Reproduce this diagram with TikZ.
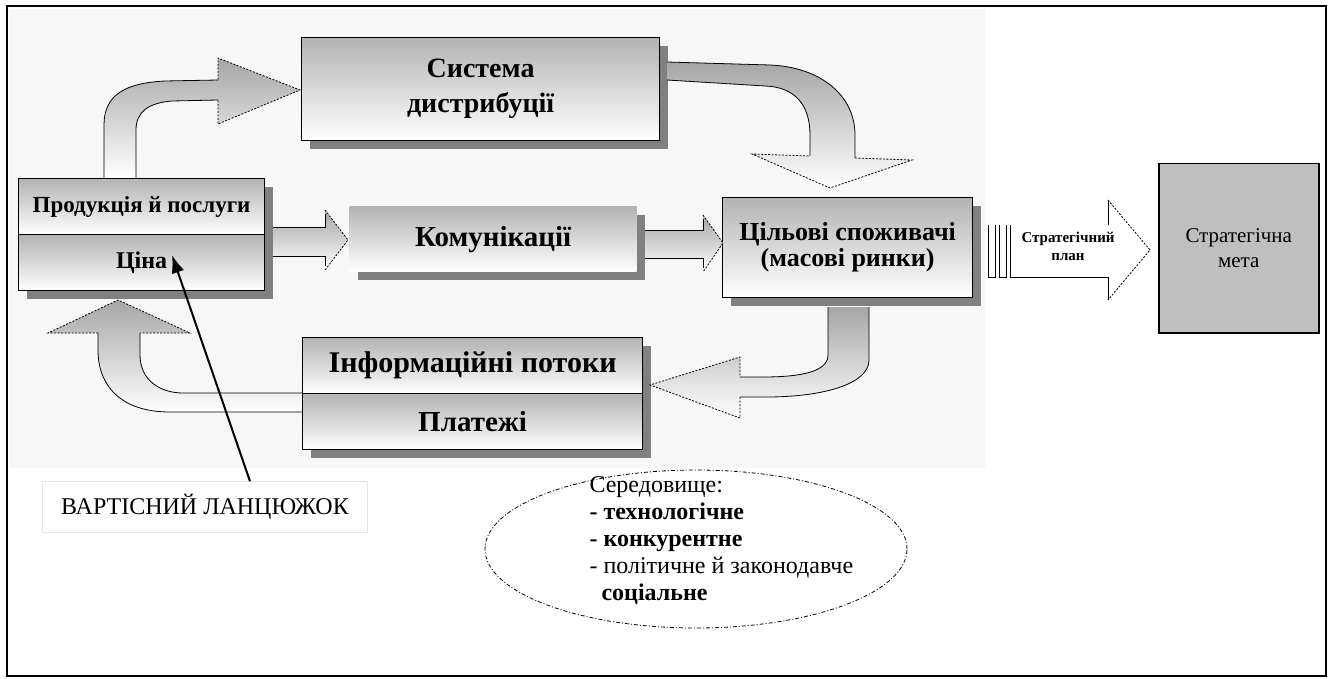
\documentclass[tikz,border=0pt]{standalone}
\usepackage{fontspec}
\setmainfont{Liberation Serif}
\usetikzlibrary{shadows,arrows.meta,shapes.geometric,calc}

\tikzset{
  cell/.style={draw=black, line width=1.2pt, top color=black!30, bottom color=white,
    anchor=north west, inner sep=0pt, font=\bfseries},
  boxshadow/.style={general shadow={fill=black!50, shadow xshift=8pt, shadow yshift=-8pt}},
  flow/.style={top color=black!35, bottom color=white},
  flowedge/.style={line width=.8pt},
  flowhead/.style={line width=.8pt, dash pattern=on 2pt off 1.5pt},
}

\begin{document}
\begin{tikzpicture}[x=1pt, y=-1pt]
  \useasboundingbox (0,0) rectangle (1332,679);
  % background and frame
  \fill[black!3] (10,9) rectangle (985,468);
  \draw[line width=2.5pt] (7,6) rectangle (1326,676);

  % boxes
  \node[cell, boxshadow, minimum width=246pt, minimum height=56pt,
    font=\fontsize{23}{23}\selectfont\bfseries] (prod) at (18,178) {Продукція й послуги};
  \node[cell, boxshadow, minimum width=246pt, minimum height=56pt,
    font=\fontsize{24}{24}\selectfont\bfseries] (cina) at (18,234) {Ціна};
  \node[cell, boxshadow, minimum width=358pt, minimum height=103pt, align=center,
    font=\fontsize{28}{35}\selectfont\bfseries] (sys) at (301,37) {Система\\дистрибуції};
  \node[cell, draw=none, boxshadow, minimum width=287pt, minimum height=65pt,
    font=\fontsize{29}{29}\selectfont\bfseries] (komun) at (349,206) {Комунікації};
  \node[cell, boxshadow, minimum width=250pt, minimum height=100pt, align=center,
    font=\fontsize{26}{26}\selectfont\bfseries] (cil) at (722,197) {Цільові споживачі\\(масові ринки)};
  \node[cell, boxshadow, minimum width=340pt, minimum height=56pt,
    font=\fontsize{30}{30}\selectfont\bfseries] (info) at (302,337) {Інформаційні потоки};
  \node[cell, boxshadow, minimum width=340pt, minimum height=56pt,
    font=\fontsize{29}{29}\selectfont\bfseries] (plat) at (302,393) {Платежі};
  \node[draw, line width=1.5pt, fill=black!25, anchor=north west, align=center,
    minimum width=160pt, minimum height=169pt,
    font=\fontsize{21}{25}\selectfont] (meta) at (1158,163) {Стратегічна\\мета};

  % flows between the boxes
  \shade[flow] (104,178) -- (104,125) .. controls (104,95) and (125,83) .. (165,81) -- (218,80)
    -- (218,58) -- (300,90) -- (218,124) -- (218,100) -- (172,101)
    .. controls (148,103) and (136,112) .. (136,130) -- (136,178) -- cycle;
  \draw[flowedge] (104,178) -- (104,125) .. controls (104,95) and (125,83) .. (165,81) -- (218,80);
  \draw[flowedge] (218,100) -- (172,101) .. controls (148,103) and (136,112) .. (136,130) -- (136,178);
  \draw[flowhead] (218,80) -- (218,58) -- (300,90) -- (218,124) -- (218,100);

  \shade[flow] (667,62) -- (770,65) .. controls (820,67) and (855,95) .. (855,135) -- (855,158)
    -- (912,160) -- (830,188) -- (752,154) -- (810,156) -- (810,135)
    .. controls (810,105) and (795,87) .. (765,86) -- (667,80) -- cycle;
  \draw[flowedge] (667,62) -- (770,65) .. controls (820,67) and (855,95) .. (855,135) -- (855,158);
  \draw[flowedge] (810,156) -- (810,135) .. controls (810,105) and (795,87) .. (765,86) -- (667,80);
  \draw[flowhead] (855,158) -- (912,160) -- (830,188) -- (752,154) -- (810,156);

  \shade[flow] (273,227) -- (325,227) -- (325,210) -- (348,240) -- (325,270) -- (325,256)
    -- (273,256) -- cycle;
  \draw[flowedge] (273,227) -- (325,227) -- (325,214) (325,266) -- (325,256) -- (273,256);
  \draw[flowhead] (325,210) -- (348,240) -- (325,270);

  \shade[flow] (645,230) -- (703,230) -- (703,215) -- (723,243) -- (703,272) -- (703,258)
    -- (645,258) -- cycle;
  \draw[flowedge] (645,230) -- (703,230) -- (703,219) (703,268) -- (703,258) -- (645,258);
  \draw[flowhead] (703,215) -- (723,243) -- (703,272);

  \shade[flow] (869,307) -- (869,360) .. controls (869,385) and (820,397) .. (767,397)
    -- (740,397) -- (740,418) -- (650,385) -- (740,357) -- (740,377) -- (763,377)
    .. controls (800,377) and (828,372) .. (828,355) -- (828,307) -- cycle;
  \draw[flowedge] (869,307) -- (869,360) .. controls (869,385) and (820,397) .. (767,397) -- (740,397);
  \draw[flowedge] (740,377) -- (763,377) .. controls (800,377) and (828,372) .. (828,355) -- (828,307);
  \draw[flowhead] (740,397) -- (740,418) -- (650,385) -- (740,357) -- (740,377);

  \shade[flow] (302,412) -- (170,412) .. controls (120,412) and (98,385) .. (98,350) -- (98,333)
    -- (48,333) -- (118,300) -- (190,333) -- (140,333) -- (140,355)
    .. controls (140,380) and (160,393) .. (183,393) -- (302,393) -- cycle;
  \draw[flowedge] (302,412) -- (170,412) .. controls (120,412) and (98,385) .. (98,350) -- (98,333);
  \draw[flowedge] (140,333) -- (140,355) .. controls (140,380) and (160,393) .. (183,393) -- (302,393);
  \draw[flowhead] (98,333) -- (48,333) -- (118,300) -- (190,333) -- (140,333);

  % striped arrow to the goal
  \foreach \x in {988,999}
    \draw[flowedge] (\x,225) -- (\x,277) -- (\x+7,277) -- (\x+7,225);
  \draw[flowedge] (1010,225) -- (1010,277) -- (1108,277) -- (1108,300);
  \draw[flowedge] (1108,225) -- (1108,200);
  \draw[flowhead] (1108,200) -- (1150,250) -- (1108,300);
  \node[align=center, font=\fontsize{15}{18}\selectfont\bfseries] (plan) at (1068,246)
    {Стратегічний\\план};

  % environment
  \node[draw, ellipse, line width=.8pt, dash pattern=on 4pt off 2pt on 1pt off 2pt,
    minimum width=422pt, minimum height=158pt] (env) at (696,549) {};
  \node[align=left, anchor=west, font=\fontsize{24}{27}\selectfont] (envtxt) at (586,541)
    {Середовище:\\\textbf{- технологічне}\\\textbf{- конкурентне}\\- політичне й законодавче\\
     \hspace*{12pt}\textbf{соціальне}};

  % value chain label
  \node[draw=black!10, fill=white, minimum width=325pt, minimum height=51pt,
    font=\fontsize{24}{24}\selectfont] (vart) at (205,507) {ВАРТІСНИЙ ЛАНЦЮЖОК};
  \coordinate (cinatip) at (172,255);
  \draw[line width=2pt, -{Latex[length=18pt,width=13pt]}] ($(vart.north)+(45,0)$) -- (cinatip);
\end{tikzpicture}
\end{document}
